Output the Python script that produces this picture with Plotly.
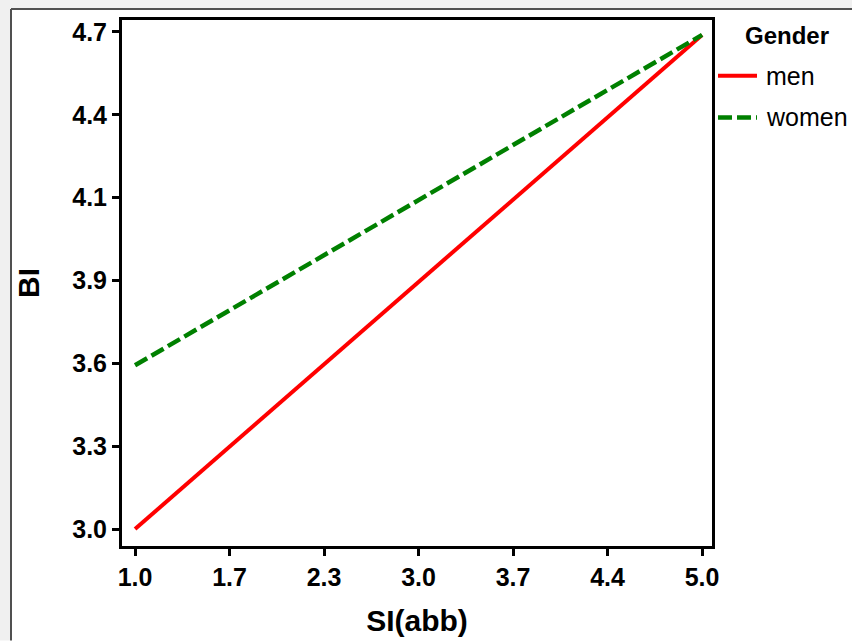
import plotly.graph_objects as go

# Predicted BI at the ends of the SI(abb) range, by gender
si_values = [1.0, 5.0]
bi_men = [3.0, 4.69]
bi_women = [3.56, 4.69]

# Axis ticks: range split into six equal steps, labels rounded to one decimal
x_tickvals = [1.0 + k * (4.0 / 6) for k in range(7)]
x_ticktext = ["1.0", "1.7", "2.3", "3.0", "3.7", "4.4", "5.0"]
y_tickvals = [3.0 + k * (1.7 / 6) for k in range(7)]
y_ticktext = ["3.0", "3.3", "3.6", "3.9", "4.1", "4.4", "4.7"]

W, H = 852, 644
L, R, T, B = 122, 140, 20, 95
PW, PH = W - L - R, H - T - B


def px(x):
    return (x - L) / PW


def py(y):
    return (H - B - y) / PH


FONT = "Liberation Sans, Arial, sans-serif"
MEN_LINE = dict(color="#ff0000", width=4)
WOMEN_LINE = dict(color="#008000", width=4.5, dash="14px,5px")

fig = go.Figure()
fig.add_trace(go.Scatter(x=si_values, y=bi_men, mode="lines", name="men", line=MEN_LINE))
fig.add_trace(go.Scatter(x=si_values, y=bi_women, mode="lines", name="women", line=WOMEN_LINE))

tick_font = dict(family=FONT, size=25, color="black", weight="bold")
title_font = dict(family=FONT, size=30, color="black", weight="bold")

fig.update_xaxes(
    range=[0.908, 5.07], tickmode="array", tickvals=x_tickvals, ticktext=x_ticktext,
    showgrid=False, zeroline=False, showline=True, linecolor="black", linewidth=3,
    mirror=True, ticks="outside", ticklen=7, tickwidth=3, tickcolor="black",
    tickfont=tick_font, title=dict(text="SI(abb)", font=title_font, standoff=20),
)
fig.update_yaxes(
    range=[2.942, 4.741], tickmode="array", tickvals=y_tickvals, ticktext=y_ticktext,
    showgrid=False, zeroline=False, showline=True, linecolor="black", linewidth=3,
    mirror=True, ticks="outside", ticklen=7, tickwidth=3, tickcolor="black",
    tickfont=tick_font, title=dict(text="BI", font=title_font, standoff=24),
)

# Window frame: light grey band with a dark edge along the top and left
frame = [
    dict(type="rect", x0=px(0), x1=px(W), y0=py(0), y1=py(9), fillcolor="#f0f0f0", line_width=0),
    dict(type="rect", x0=px(0), x1=px(10), y0=py(0), y1=py(H), fillcolor="#f0f0f0", line_width=0),
    dict(type="line", x0=px(11), x1=px(W), y0=py(9), y1=py(9), line=dict(color="#505050", width=2)),
    dict(type="line", x0=px(11), x1=px(11), y0=py(9), y1=py(H), line=dict(color="#505050", width=2)),
]

# Legend key drawn beside the plot: heading, line samples and labels
key_rows = [("men", MEN_LINE, 76), ("women", WOMEN_LINE, 118)]
for label, style, row_y in key_rows:
    frame.append(dict(type="line", x0=px(718), x1=px(757), y0=py(row_y), y1=py(row_y), line=style))
    fig.add_annotation(
        text=label, xref="paper", yref="paper", x=px(764), y=py(row_y),
        xanchor="left", yanchor="middle", showarrow=False,
        font=dict(family=FONT, size=25, color="black"),
    )
fig.add_annotation(
    text="Gender", xref="paper", yref="paper", x=px(787), y=py(36),
    xanchor="center", yanchor="middle", showarrow=False,
    font=dict(family=FONT, size=24, color="black", weight="bold"),
)

for s in frame:
    s.update(xref="paper", yref="paper", layer="above")
    fig.add_shape(**s)

fig.update_layout(
    width=W, height=H, autosize=False,
    margin=dict(l=L, r=R, t=T, b=B),
    paper_bgcolor="white", plot_bgcolor="white",
    showlegend=False,
)

fig.write_html("out.html", config=dict(displayModeBar=False))
